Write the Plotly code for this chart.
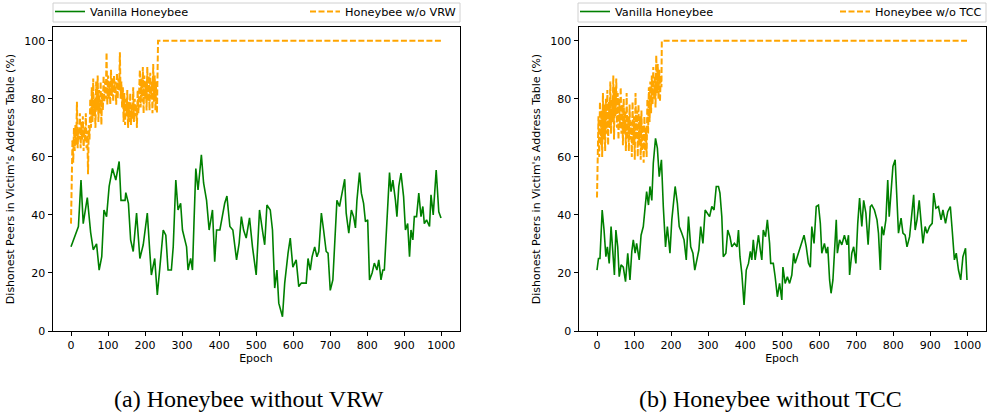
import plotly.graph_objects as go

# ---------------- data ----------------
# (a) Honeybee without VRW
a_green_epoch = [0, 11, 20, 27, 33, 44, 53, 60, 69, 76, 83, 89, 96, 103, 112, 121, 130, 135, 146, 148,
                 155, 161, 168, 177, 186, 195, 206, 213, 217, 226, 233, 240, 249, 256, 262, 271, 276, 283, 289, 296,
                 301, 312, 316, 323, 328, 332, 337, 343, 352, 358, 366, 373, 382, 388, 393, 402, 409, 415, 421, 429,
                 437, 447, 454, 460, 466, 473, 482, 490, 500, 509, 518, 523, 529, 538, 544, 550, 556, 561, 571, 577,
                 586, 592, 599, 608, 615, 622, 635, 640, 646, 651, 658, 664, 669, 676, 682, 689, 694, 700, 707, 712,
                 718, 725, 730, 739, 743, 750, 757, 763, 768, 772, 779, 784, 790, 795, 801, 806, 813, 819, 826, 831,
                 837, 842, 846, 853, 860, 864, 869, 876, 880, 885, 891, 898, 903, 909, 914, 918, 923, 927, 933, 939,
                 945, 950, 954, 960, 968, 972, 978, 986, 993, 999]
a_green_value = [29, 33, 36, 52, 37, 46, 34, 28, 30, 21, 25.6, 41.7, 39.4, 49.8, 56, 52, 58.4, 45, 45, 47.7,
                 44, 31.4, 27.4, 40.6, 25, 29.7, 40.6, 26.8, 19.3, 25, 12.4, 22, 34.8, 33, 21, 21, 29, 52, 41.7, 44,
                 34.8, 29, 21, 25, 21, 37, 56, 48.6, 60.7, 51, 45, 34.8, 41.7, 23.9, 34.8, 34.8, 40.6, 44, 46.5, 36,
                 34.8, 24.5, 30.3, 39.4, 34.8, 32, 39, 29, 19.3, 41.7, 33.7, 29.7, 43.4, 41.7, 34.8, 14.8, 21, 9.6, 4.9, 16.5,
                 26.8, 32, 22, 24.5, 15.3, 16.5, 16.5, 25, 21, 25.6, 29, 25.6, 27.4, 40.6, 34.8, 27.4, 26.8, 14, 17.6, 29,
                 45, 42.9, 46.3, 52.3, 40.6, 33.7, 41.7, 39.4, 35.5, 45, 54.6, 47.5, 44, 37.7, 38.3, 17.6, 20, 23.4, 21, 24.5,
                 17.6, 21, 21, 40.6, 54.6, 48, 52, 45, 39.4, 49.8, 54.4, 46.3, 34.8, 37, 25.6, 34.8, 31.4, 39.4, 39.4, 47.5,
                 39.4, 42.9, 37, 38.3, 36, 46.9, 40, 55.5, 41.1, 38.9]

a_orange_epoch = list(range(0, 235, 2)) + [235, 999]
a_orange_value = [37, 60, 66, 58, 70, 62, 71, 64, 79, 63,
                  70, 66, 75, 63, 72, 66, 74, 62, 70, 65,
                  75, 63, 69, 54, 71, 66, 80, 70, 84, 72,
                  87, 74, 80, 70, 86, 76, 88, 72, 83, 75,
                  86, 71, 82, 76, 88, 79, 86, 80, 96, 78,
                  88, 80, 86, 78, 90, 81, 87, 79, 88, 82,
                  86, 78, 89, 80, 87, 83, 96, 80, 86, 77,
                  84, 72, 82, 71, 80, 74, 83, 70, 79, 72,
                  82, 71, 78, 73, 84, 72, 80, 74, 78, 70,
                  83, 75, 80, 90, 77, 87, 79, 91, 75, 88,
                  80, 86, 76, 91, 79, 88, 76, 89, 80, 86,
                  75, 92, 79, 88, 76, 86, 75, 88,
                  100, 100]

# (b) Honeybee without TCC
b_green_epoch = [0, 4, 8, 14, 19, 24, 28, 33, 38, 42, 47, 51, 56, 60, 65, 71, 77, 83, 89, 94,
                 98, 103, 107, 114, 119, 125, 130, 134, 139, 143, 148, 152, 158, 163, 168, 174, 179, 185, 190, 197,
                 202, 211, 217, 222, 229, 235, 241, 247, 253, 259, 264, 269, 275, 280, 286, 292, 298, 304, 310, 316,
                 322, 328, 332, 337, 341, 348, 353, 359, 364, 371, 378, 382, 386, 391, 397, 403, 409, 414, 418, 422,
                 427, 432, 436, 441, 445, 449, 455, 460, 466, 469, 476, 481, 487, 493, 499, 502, 508, 514, 520, 526,
                 531, 535, 541, 547, 553, 559, 565, 571, 576, 580, 586, 592, 598, 603, 607, 614, 619, 623, 628, 632,
                 637, 643, 646, 649, 655, 661, 668, 675, 679, 682, 688, 693, 699, 704, 709, 715, 720, 726, 732, 738,
                 742, 749, 756, 760, 765, 769, 774, 780, 785, 789, 794, 799, 805, 810, 814, 821, 826, 832, 837, 844,
                 851, 855, 859, 864, 870, 875, 880, 886, 891, 898, 905, 909, 915, 922, 929, 934, 941, 947, 954, 959,
                 965, 970, 976, 982, 988, 995, 999]
b_green_value = [21, 25, 25, 41.7, 34.8, 25.6, 29, 23.3, 36, 29, 19.3, 34.8, 29, 18.7, 22.8, 22, 17, 26.8, 17.6, 27.4,
                 31.4, 26.8, 30.2, 24.5, 33, 36, 44, 48, 43.4, 49.8, 45, 57.8, 66.4, 63, 53.2, 59, 42.9, 29, 36, 26.8,
                 38.3, 49.8, 44, 36, 33.7, 31.4, 24.5, 39.4, 29, 26.8, 21, 24.5, 27.9, 36, 30.2, 41.7, 40.6, 39.4, 42.9, 41.7,
                 49.8, 49.8, 47.5, 39.4, 25.6, 26.8, 34.8, 32.5, 29, 30.2, 29, 34.8, 25.6, 19.9, 9, 21, 23.3, 27.4, 24.5, 31.4,
                 24.5, 29, 33, 27.9, 24.5, 34.8, 32.5, 38.3, 30.2, 23.3, 23.3, 18.7, 11.8, 16.4, 10.7, 22, 16.4, 18.7, 16.4, 19.3,
                 26.8, 23.3, 25.6, 27.9, 30.2, 33, 29, 23.3, 22, 36, 30.2, 42.9, 43.4, 37.1, 26.8, 30.2, 26.8, 29, 17.6, 13,
                 17.6, 32.5, 38.3, 26.8, 31.4, 29.7, 33, 29.7, 33, 19.3, 26.8, 29, 23.3, 37.1, 45.8, 36, 45, 40.6, 29.7, 42.9,
                 43.4, 41.7, 38.3, 33.7, 21, 36, 33, 38.3, 52, 39.4, 48.6, 56.7, 59, 46.3, 33.7, 38.9, 33.7, 33, 29, 32.5,
                 41.7, 46.9, 34.8, 38.3, 45, 37.1, 30.2, 36, 33.7, 36, 37.1, 47.5, 42.3, 42.9, 38.3, 41.7, 37.1, 41.1, 42.9, 34.8,
                 24.5, 26.8, 21, 17.6, 25.6, 28.5, 17.6]

b_orange_epoch = list(range(0, 175, 2)) + [175, 999]
b_orange_value = [46, 62, 74, 60, 79, 64, 76, 60, 82, 66,
                  78, 62, 80, 68, 83, 64, 79, 70, 86, 68,
                  80, 72, 88, 66, 84, 74, 87, 70, 82, 66,
                  80, 70, 84, 68, 78, 64, 80, 68, 76, 62,
                  82, 66, 74, 62, 78, 66, 72, 60, 79, 64,
                  74, 59, 82, 66, 76, 60, 78, 64, 74, 59,
                  76, 62, 71, 58, 74, 62, 70, 60, 80, 68,
                  84, 72, 86, 75, 88, 78, 91, 80, 88, 77,
                  95, 82, 92, 80, 90, 79, 88, 84,
                  100, 100]

series_names = ["Vanilla Honeybee", "Honeybee w/o VRW", "Honeybee w/o TCC"]
captions = ["(a) Honeybee without VRW", "(b) Honeybee without TCC"]
y_title = "Dishonest Peers in Victim's Address Table (%)"
x_title = "Epoch"
x_ticks = [0, 100, 200, 300, 400, 500, 600, 700, 800, 900, 1000]
y_ticks = [0, 20, 40, 60, 80, 100]

# ---------------- styling ----------------
W, H = 988, 415
GREEN = "#008000"
ORANGE = "#FFA500"
FONT = "DejaVu Sans"

def px(x):
    return x / W

def py(y):
    return 1 - y / H

fig = go.Figure()

fig.add_trace(go.Scatter(x=a_green_epoch, y=a_green_value, mode="lines", name=series_names[0],
                         line=dict(color=GREEN, width=1.6), xaxis="x", yaxis="y", legend="legend",
                         showlegend=True))
fig.add_trace(go.Scatter(x=a_orange_epoch, y=a_orange_value, mode="lines", name=series_names[1],
                         line=dict(color=ORANGE, width=2, dash="6px,2.5px"), xaxis="x", yaxis="y", legend="legend2",
                         showlegend=True))
fig.add_trace(go.Scatter(x=b_green_epoch, y=b_green_value, mode="lines", name=series_names[0],
                         line=dict(color=GREEN, width=1.6), xaxis="x2", yaxis="y2", legend="legend3",
                         showlegend=True))
fig.add_trace(go.Scatter(x=b_orange_epoch, y=b_orange_value, mode="lines", name=series_names[2],
                         line=dict(color=ORANGE, width=2, dash="6px,2.5px"), xaxis="x2", yaxis="y2", legend="legend4",
                         showlegend=True))

axis_common = dict(showline=True, linecolor="black", linewidth=1, mirror=True, ticks="outside",
                   ticklen=4, tickwidth=1, tickcolor="black", showgrid=False, zeroline=False,
                   tickfont=dict(family=FONT, size=11, color="black"))

xr = [-49.95, 1048.95]
yr = [0, 104.75]
fig.update_layout(
    width=W, height=H, margin=dict(l=0, r=0, t=0, b=0, autoexpand=False),
    paper_bgcolor="white", plot_bgcolor="white", showlegend=True,
    font=dict(family=FONT, size=11, color="black"),
    xaxis=dict(domain=[px(52.5), px(459.5)], range=xr, tickvals=x_ticks, anchor="y",
               title=dict(text=x_title, standoff=2, font=dict(size=11)), **axis_common),
    yaxis=dict(domain=[py(331), py(27)], range=yr, tickvals=y_ticks, anchor="x",
               title=dict(text=y_title, standoff=7, font=dict(size=11)), **axis_common),
    xaxis2=dict(domain=[px(578.5), px(985.5)], range=xr, tickvals=x_ticks, anchor="y2",
                title=dict(text=x_title, standoff=2, font=dict(size=11)), **axis_common),
    yaxis2=dict(domain=[py(331), py(27)], range=yr, tickvals=y_ticks, anchor="x2",
                title=dict(text=y_title, standoff=7, font=dict(size=11)), **axis_common),
)

leg_common = dict(orientation="h", yanchor="middle", xanchor="left", bgcolor="rgba(0,0,0,0)",
                  borderwidth=0, font=dict(family=FONT, size=11.3, color="black"), itemwidth=30,
                  visible=True)
fig.update_layout(
    legend=dict(x=px(50), y=py(11.5), **leg_common),
    legend2=dict(x=px(305), y=py(11.5), **leg_common),
    legend3=dict(x=px(575), y=py(11.5), **leg_common),
    legend4=dict(x=px(835), y=py(11.5), **leg_common),
)

# legend frames
for x0, x1 in [(53, 460), (578, 986)]:
    fig.add_shape(type="rect", xref="paper", yref="paper", x0=px(x0), x1=px(x1), y0=py(22), y1=py(3),
                  line=dict(color="#d0d0d0", width=1), fillcolor="rgba(255,255,255,0.8)", layer="below")

# captions
for cx, txt in [(249, captions[0]), (770, captions[1])]:
    fig.add_annotation(x=px(cx), y=py(399), xref="paper", yref="paper", text=txt, showarrow=False,
                       xanchor="center", yanchor="middle",
                       font=dict(family="Liberation Serif", size=24, color="black"))

# remove the page's default body margin so the figure sits at the window's top-left corner
fig.write_html("out.html", config={"displayModeBar": False},
               post_script="document.body.style.margin='0px';")
